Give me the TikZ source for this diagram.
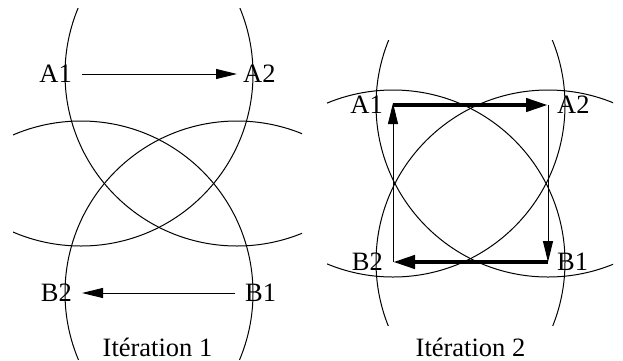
\documentclass[tikz,border=0pt]{standalone}
\usepackage{fontspec}
\setmainfont{Liberation Serif}
\usetikzlibrary{arrows.meta}
\begin{document}
\begin{tikzpicture}[x=1pt,y=-1pt,
  lbl/.style={inner sep=0pt,font=\fontsize{26.5}{30}\selectfont},
  circ/.style={line width=1pt},
  thinarr/.style={line width=1pt,-{Triangle[length=21pt,width=10pt]}},
  thickarr/.style={line width=4.3pt,-{Triangle[length=22pt,width=13pt]}}]
\useasboundingbox (0,0) rectangle (623,360);
% ---------- Iteration 1 ----------
\coordinate (pa1) at (81,74);
\coordinate (pa2) at (237,74);
\coordinate (pb1) at (237,293);
\coordinate (pb2) at (81,293);
\begin{scope}
  \clip (13,8) rectangle (302,359);
  \foreach \p in {pa1,pa2,pb1,pb2}
    \draw[circ] (\p) circle[radius=172pt];
\end{scope}
\node[lbl,anchor=east] (la1) at (72,74) {A1};
\node[lbl,anchor=west] (la2) at (243,74) {A2};
\node[lbl,anchor=west] (lb1) at (245,293) {B1};
\node[lbl,anchor=east] (lb2) at (72,293) {B2};
\draw[thinarr] ([xshift=1pt]pa1) -- (pa2);
\draw[thinarr] ([xshift=-2pt]pb1) -- ([xshift=1pt]pb2);
\node[lbl,anchor=base] (t1) at (157.5,356) {Itération 1};
% ---------- Iteration 2 ----------
\coordinate (qa1) at (393,105);
\coordinate (qa2) at (548,105);
\coordinate (qb1) at (548,262);
\coordinate (qb2) at (393,262);
\begin{scope}
  \clip (327,40) rectangle (613,325);
  \foreach \p in {qa1,qa2,qb1,qb2}
    \draw[circ] (\p) circle[radius=172pt];
\end{scope}
\node[lbl,anchor=east] (ma1) at (383,105) {A1};
\node[lbl,anchor=west] (ma2) at (557,105) {A2};
\node[lbl,anchor=west] (mb1) at (557,262) {B1};
\node[lbl,anchor=east] (mb2) at (383,262) {B2};
\draw[thinarr] (qa2) -- (qb1);
\draw[thinarr] (qb2) -- ([yshift=2pt]qa1);
\draw[thickarr] (qa1) -- (qa2);
\draw[thickarr] (qb1) -- (qb2);
\node[lbl,anchor=base] (t2) at (470.5,356) {Itération 2};
\end{tikzpicture}
\end{document}
